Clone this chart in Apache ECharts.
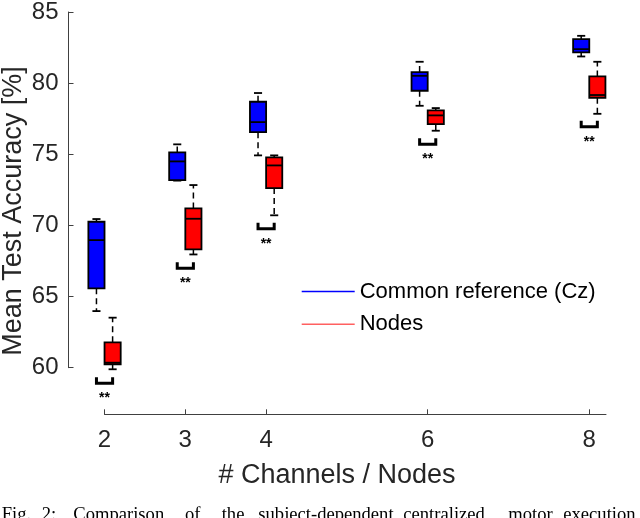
<!DOCTYPE html>
<html>
<head>
<meta charset="utf-8">
<script src="https://cdn.jsdelivr.net/npm/echarts@6/dist/echarts.min.js"></script>
<style>
html,body{margin:0;padding:0;background:#fff;}
#chart{width:640px;height:518px;}
</style>
</head>
<body>
<div id="chart"></div>
<script>
// ---- data ----
const channels = [2, 3, 4, 6, 8];
// [min, Q1, median, Q3, max]
const czStats = [
  [63.95, 65.54, 68.90, 70.18, 70.37],
  [73.05, 73.09, 74.39, 75.02, 75.58],
  [74.81, 76.43, 77.13, 78.55, 79.16],
  [78.27, 79.32, 80.36, 80.62, 81.34],
  [81.71, 81.99, 82.22, 82.92, 83.15]
];
const nodeStats = [
  [59.89, 60.24, 60.35, 61.77, 63.49],
  [67.90, 68.26, 70.39, 71.11, 72.74],
  [70.63, 72.53, 74.11, 74.67, 74.81],
  [76.53, 76.99, 77.60, 77.95, 78.11],
  [77.71, 78.83, 79.02, 80.32, 81.34]
];
const sigTop = [59.33, 67.35, 70.11, 76.00, 77.22];
const sigLabel = ['**', '**', '**', '**', '**'];
const xTicks = [2, 3, 4, 6, 8];
const seriesNames = ['Common reference (Cz)', 'Nodes'];
const xTitle = '# Channels / Nodes';
const yTitle = 'Mean Test Accuracy [%]';
const captionWords = ['Fig.', '2:', 'Comparison', 'of', 'the', 'subject-dependent', 'centralized', 'motor', 'execution'];

// ---- layout / style ----
const FONT = '"Liberation Sans", Arial, Helvetica, sans-serif';
const AX = '#404040';
const TXT = '#262626';
const captionX = [1.7, 41.7, 73.3, 185, 221.7, 258.3, 403.3, 508.3, 563.3];

function boxRenderer(off, fill) {
  return function (params, api) {
    const x = api.value(0) + off;
    const v = [1, 2, 3, 4, 5].map(i => api.value(i));
    const P = (xx, yy) => api.coord([xx, yy]);
    const xc = P(x, v[0])[0];
    const xl = P(x - 0.1, v[0])[0];
    const xr = P(x + 0.1, v[0])[0];
    const cl = P(x - 0.05, v[0])[0];
    const cr = P(x + 0.05, v[0])[0];
    const y = v.map(val => P(x, val)[1]);
    const ws = { stroke: '#000', lineWidth: 1.5, lineDash: [6, 4] };
    const ss = { stroke: '#000', lineWidth: 1.8 };
    return {
      type: 'group',
      children: [
        { type: 'line', shape: { x1: xc, y1: y[3], x2: xc, y2: y[4] }, style: ws },
        { type: 'line', shape: { x1: xc, y1: y[1], x2: xc, y2: y[0] }, style: ws },
        { type: 'line', shape: { x1: cl, y1: y[4], x2: cr, y2: y[4] }, style: ss },
        { type: 'line', shape: { x1: cl, y1: y[0], x2: cr, y2: y[0] }, style: ss },
        { type: 'rect', shape: { x: xl, y: y[3], width: xr - xl, height: y[1] - y[3] },
          style: { fill: fill, stroke: '#000', lineWidth: 1.8 } },
        { type: 'line', shape: { x1: xl, y1: y[2], x2: xr, y2: y[2] }, style: ss }
      ]
    };
  };
}

function sigRenderer(params, api) {
  const c = api.value(0);
  const top = api.value(1);
  const l = api.coord([c - 0.1, top]);
  const r = api.coord([c + 0.1, top]);
  const ty = l[1];
  const by = ty + 6;
  return {
    type: 'group',
    children: [
      { type: 'polyline', shape: { points: [[l[0], ty], [l[0], by], [r[0], by], [r[0], ty]] },
        style: { stroke: '#000', lineWidth: 3, fill: null, lineJoin: 'miter', lineCap: 'butt' } },
      { type: 'text', x: (l[0] + r[0]) / 2, y: by + 15,
        style: { text: sigLabel[params.dataIndex], fill: '#000', font: 'bold 14px ' + FONT, align: 'center', verticalAlign: 'middle' } }
    ]
  };
}

const chart = echarts.init(document.getElementById('chart'), null, { renderer: 'canvas' });

const graphics = [
  { type: 'text', x: 337, y: 476, style: { text: xTitle, font: '27px ' + FONT, fill: TXT, align: 'center', verticalAlign: 'middle' } },
  { type: 'text', x: 14, y: 211, rotation: Math.PI / 2, style: { text: yTitle, font: '27px ' + FONT, fill: TXT, align: 'center', verticalAlign: 'middle' } }
];
captionWords.forEach((w, i) => {
  graphics.push({ type: 'text', x: captionX[i], y: 515,
    style: { text: w, font: '18.6px "Liberation Serif", "Times New Roman", serif', fill: '#000', align: 'left', verticalAlign: 'middle' } });
});

const option = {
  backgroundColor: '#fff',
  animation: false,
  grid: [
    { left: 68.5, right: 34, top: 9.3, bottom: 103.7 },
    { left: 104.5, right: 34, top: 9.3, bottom: 103.7 },
    { left: 68.5, right: 34, top: 9.3, bottom: 150.3 }
  ],
  xAxis: [
    { type: 'value', gridIndex: 0, min: 1.554, max: 8.207, show: false },
    { type: 'value', gridIndex: 1, min: 2, max: 8.207,
      axisLine: { show: true, lineStyle: { color: AX, width: 1 } },
      axisTick: { show: true, inside: true, length: 5, customValues: xTicks, lineStyle: { color: AX } },
      axisLabel: { customValues: xTicks, fontSize: 24, fontFamily: FONT, color: TXT, margin: 14 },
      splitLine: { show: false } },
    { type: 'value', gridIndex: 2, min: 1.554, max: 8.207, show: false }
  ],
  yAxis: [
    { type: 'value', gridIndex: 0, min: 56.75, max: 85, show: false },
    { type: 'value', gridIndex: 1, min: 56.75, max: 85, show: false },
    { type: 'value', gridIndex: 2, min: 60, max: 85, interval: 5,
      axisLine: { show: true, lineStyle: { color: AX, width: 1 } },
      axisTick: { show: true, inside: true, length: 5, lineStyle: { color: AX } },
      axisLabel: { fontSize: 24, fontFamily: FONT, color: TXT, margin: 10, showMinLabel: true, showMaxLabel: true },
      splitLine: { show: false } }
  ],
  legend: {
    left: 301.7, top: 280.5, orient: 'vertical', padding: 0,
    itemWidth: 53, itemHeight: 1.5, itemGap: 10.7, icon: 'rect',
    selectedMode: false,
    textStyle: { fontSize: 22, lineHeight: 22, fontFamily: FONT, color: '#000' },
    data: [
      { name: seriesNames[0], itemStyle: { color: '#0000ff' } },
      { name: seriesNames[1], itemStyle: { color: '#ff6060' } }
    ]
  },
  graphic: graphics,
  series: [
    { type: 'custom', name: seriesNames[0], xAxisIndex: 0, yAxisIndex: 0, clip: false,
      itemStyle: { color: '#0000ff' },
      encode: { x: 0, y: [1, 2, 3, 4, 5] },
      data: channels.map((c, i) => [c].concat(czStats[i])),
      renderItem: boxRenderer(-0.1, '#0000ff') },
    { type: 'custom', name: seriesNames[1], xAxisIndex: 0, yAxisIndex: 0, clip: false,
      itemStyle: { color: '#ff0000' },
      encode: { x: 0, y: [1, 2, 3, 4, 5] },
      data: channels.map((c, i) => [c].concat(nodeStats[i])),
      renderItem: boxRenderer(0.1, '#ff0000') },
    { type: 'custom', name: 'significance', xAxisIndex: 0, yAxisIndex: 0, clip: false,
      encode: { x: 0, y: 1 },
      data: channels.map((c, i) => [c, sigTop[i]]),
      renderItem: sigRenderer }
  ]
};
chart.setOption(option);
</script>
</body>
</html>
